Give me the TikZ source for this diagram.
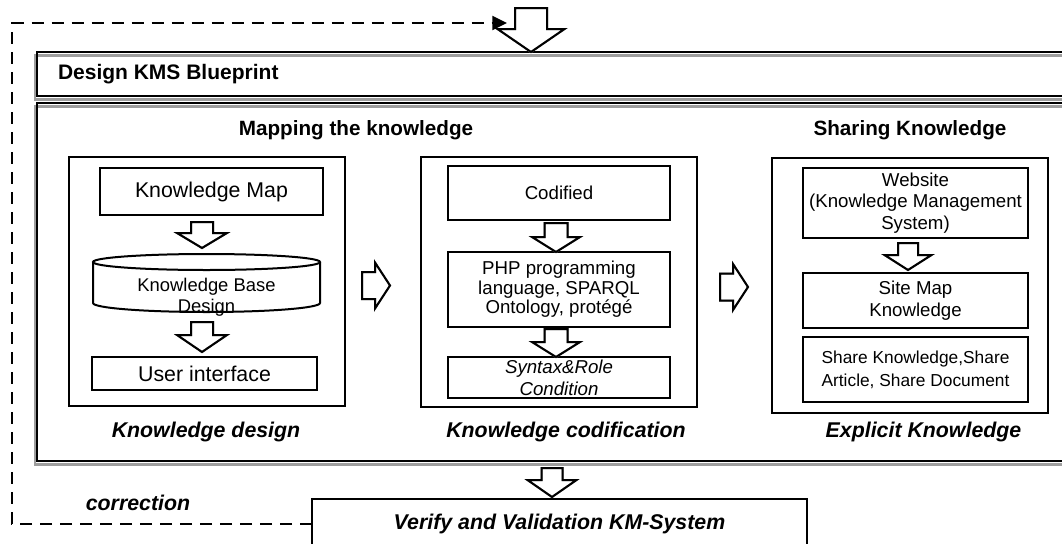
\documentclass[tikz,border=0pt]{standalone}
\usepackage{fontspec}
\setmainfont{Liberation Sans}
\usetikzlibrary{calc,arrows.meta}
\newcommand\pxu{0.75pt}
\definecolor{shadowgray}{gray}{0.62}
% vertical hollow block arrow: #1 style, #2 top coord, #3 tip coord, #4 shaft half, #5 head half, #6 head length (px)
\newcommand\vblkpath[6]{%
  \draw[#1] let \p1=#2, \p2=#3 in
    (\x2-#4*\pxu,\y1) -- (\x2+#4*\pxu,\y1) -- (\x2+#4*\pxu,\y2+#6*\pxu) -- (\x2+#5*\pxu,\y2+#6*\pxu)
    -- (\x2,\y2) -- (\x2-#5*\pxu,\y2+#6*\pxu) -- (\x2-#4*\pxu,\y2+#6*\pxu) -- cycle;}
\newcommand\hblkpath[6]{%
  \draw[#1] let \p1=#2, \p2=#3 in
    (\x1,\y2+#4*\pxu) -- (\x2-#6*\pxu,\y2+#4*\pxu) -- (\x2-#6*\pxu,\y2+#5*\pxu) -- (\x2,\y2)
    -- (\x2-#6*\pxu,\y2-#5*\pxu) -- (\x2-#6*\pxu,\y2-#4*\pxu) -- (\x1,\y2-#4*\pxu) -- cycle;}
\newcommand\vblock[5]{%
  \begin{scope}[shift={(-1.5,2.5)}]\vblkpath{blkshadow}{#1}{#2}{#3}{#4}{#5}\end{scope}
  \vblkpath{blk}{#1}{#2}{#3}{#4}{#5}}
\newcommand\hblock[5]{%
  \begin{scope}[shift={(-1.5,2.5)}]\hblkpath{blkshadow}{#1}{#2}{#3}{#4}{#5}\end{scope}
  \hblkpath{blk}{#1}{#2}{#3}{#4}{#5}}
\tikzset{
  every node/.style={inner sep=0pt, outer sep=0pt},
  frameline/.style={draw=black, line width=1.6pt},
  frameshadow/.style={draw=shadowgray, line width=1.8pt},
  panel/.style={draw=black, line width=1.5pt},
  box/.style={draw=black, line width=1.5pt, align=center},
  plain/.style={align=center},
  cylline/.style={draw=black, line width=1.5pt},
  designfont/.style={font=\fontsize{15.75pt}{18pt}\selectfont\bfseries},
  headfont/.style={font=\fontsize{15.5pt}{18pt}\selectfont\bfseries},
  labfont/.style={font=\fontsize{16pt}{19pt}\selectfont\bfseries\itshape},
  bigtxt/.style={font=\fontsize{16pt}{18pt}\selectfont},
  cyltxt/.style={font=\fontsize{13.8pt}{15.75pt}\selectfont},
  phptxt/.style={font=\fontsize{14pt}{14.6pt}\selectfont},
  syntxt/.style={font=\fontsize{14pt}{16.5pt}\selectfont\itshape},
  webtxt/.style={font=\fontsize{14pt}{16pt}\selectfont},
  sitetxt/.style={font=\fontsize{14pt}{16.5pt}\selectfont},
  sharetxt/.style={font=\fontsize{13pt}{17pt}\selectfont},
  blk/.style={draw=black, line width=1.5pt, line join=miter},
  blkshadow/.style={draw=shadowgray, line width=1.5pt, line join=miter},
  dashline/.style={draw=black, line width=1.5pt, dash pattern=on 9pt off 6pt},
}
\begin{document}
\begin{tikzpicture}[x=0.75pt, y=-0.75pt]
\useasboundingbox (0,0) rectangle (1062,543);
\clip (0,0) rectangle (1062,543);

% outer frames
\node[minimum width=1038*\pxu, minimum height=44*\pxu] (design) at (556,74) {};
\node[minimum width=1038*\pxu, minimum height=358*\pxu] (big) at (556,282) {};
\draw[frameshadow] ([shift={(-2,3.5)}]design.north west) rectangle ([shift={(-2,3.5)}]design.south east);
\draw[frameshadow] ([shift={(-2,3.5)}]big.north west) rectangle ([shift={(-2,3.5)}]big.south east);
\draw[frameline] (design.north west) rectangle (design.south east);
\draw[frameline] (big.north west) rectangle (big.south east);

\node[designfont, anchor=west] (designtxt) at (58,74.5) {Design KMS Blueprint};
\node[headfont] (maphd) at (356,130) {Mapping the knowledge};
\node[headfont] (sharehd) at (910,130) {Sharing Knowledge};

% panels
\node[panel, minimum width=276*\pxu, minimum height=249*\pxu] (p1) at (207,281.5) {};
\node[panel, minimum width=276*\pxu, minimum height=250*\pxu] (p2) at (559,282) {};
\node[panel, minimum width=276*\pxu, minimum height=255*\pxu] (p3) at (910,285.5) {};

% panel 1
\node[box, bigtxt, minimum width=223*\pxu, minimum height=47*\pxu] (km) at (211.5,191.5) {Knowledge Map};
\node[minimum width=227*\pxu, minimum height=58*\pxu] (cyl) at (206.5,283) {};
\draw[cylline] ([shift={(0,8)}]cyl.north) ellipse [x radius=113.5*\pxu, y radius=8*\pxu];
\draw[cylline] ([shift={(0,8)}]cyl.north west) -- ([shift={(0,-9)}]cyl.south west)
  arc[start angle=180, end angle=360, x radius=113.5*\pxu, y radius=9*\pxu] -- ([shift={(0,8)}]cyl.north east);
\node[plain, cyltxt] (cyltext) at ([shift={(0,14.5)}]cyl.center) {Knowledge Base\\Design};
\node[box, bigtxt, minimum width=225*\pxu, minimum height=33*\pxu] (ui) at (204.5,373.5) {User interface};

% panel 2
\node[box, phptxt, minimum width=222*\pxu, minimum height=54*\pxu] (cod) at (559,193) {Codified};
\node[box, phptxt, minimum width=222*\pxu, minimum height=75*\pxu] (php) at (559,289.5) {PHP programming\\language, SPARQL\\Ontology, protégé};
\node[box, syntxt, minimum width=222*\pxu, minimum height=41*\pxu] (syn) at (559,377.5) {Syntax\&Role\\Condition};

% panel 3
\node[box, webtxt, minimum width=225*\pxu, minimum height=70*\pxu] (web) at (915.5,203) {Website\\(Knowledge Management\\System)};
\node[box, sitetxt, minimum width=225*\pxu, minimum height=55*\pxu] (site) at (915.5,300.5) {Site Map\\Knowledge};
\node[box, sharetxt, minimum width=225*\pxu, minimum height=65*\pxu] (share) at (915.5,369.5) {Share Knowledge,Share\\Article, Share Document};

% bottom labels
\node[labfont] (l1) at (206,432) {Knowledge design};
\node[labfont] (l2) at (566,432) {Knowledge codification};
\node[labfont] (l3) at (923.5,432) {Explicit Knowledge};
\node[labfont] (corr) at (138,503) {correction};
\node[box, labfont, minimum width=495*\pxu, minimum height=49*\pxu] (verify) at (559.5,523.5) {Verify and Validation KM-System};

% block arrows
\coordinate (topin) at (531,8);
\vblock{(topin)}{(topin|-design.north)}{16}{33.5}{23}
\vblock{([shift={(-9.5,7)}]km.south)}{([shift={(-4.5,-6)}]cyl.north)}{11}{25}{15}
\vblock{([shift={(-4.5,10)}]cyl.south)}{([shift={(-2.5,-5)}]ui.north)}{11}{25}{17}
\vblock{([shift={(-3,3)}]cod.south)}{([shift={(-3,0)}]php.north)}{11.5}{24}{15}
\vblock{([shift={(-3,2)}]php.south)}{([shift={(-3,0)}]syn.north)}{11.5}{24}{15}
\vblock{([shift={(-7.5,5)}]web.south)}{([shift={(-7.5,-3)}]site.north)}{10}{23.5}{15}
\vblock{([shift={(-4,7)}]big.south)}{([shift={(-7.5,-2)}]verify.north)}{10.5}{24.5}{17}
\hblock{([shift={(17,0)}]p1.east)}{([shift={(-31,3.5)}]p2.west)}{13.5}{23}{15}
\hblock{([shift={(23,0)}]p2.east)}{([shift={(-24,1.5)}]p3.west)}{13.5}{23}{15}

% correction loop
\coordinate (corrtip) at (507,23);
\draw[dashline, -{Triangle[length=11pt,width=10.5pt]}] (verify.west) -- ++(-300,0) |- (corrtip);
\end{tikzpicture}
\end{document}
